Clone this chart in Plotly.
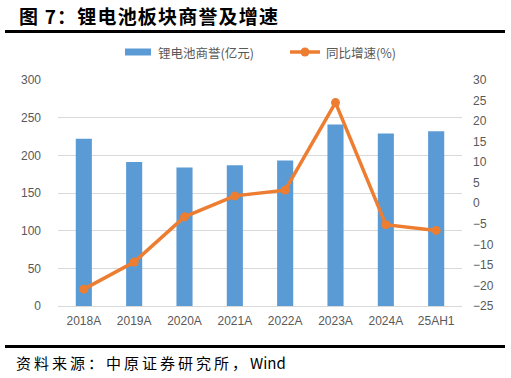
import plotly.graph_objects as go

categories = ["2018A", "2019A", "2020A", "2021A", "2022A", "2023A", "2024A", "25AH1"]
goodwill = [222, 191, 184, 187, 193, 241, 229, 232]
growth = [-20.9, -14.3, -3.3, 1.8, 3.2, 24.5, -5.2, -6.6]
left_ticks = [0, 50, 100, 150, 200, 250, 300]
right_ticks = [30, 25, 20, 15, 10, 5, 0, -5, -10, -15, -20, -25]
bar_name = "锂电池商誉(亿元)"
line_name = "同比增速(%)"
title = "图 7：锂电池板块商誉及增速"
source_cn = "资料来源：中原证券研究所，"
source_en = "Wind"

FONT = "Noto Sans CJK SC"
GRAY = "#595959"
BLUE = "#5B9BD5"
ORANGE = "#ED7D31"

L, R, T, B = 58, 49, 80, 72
W, H = 511, 378
PW, PH = W - L - R, H - T - B


def px(x):
    return (x - L) / PW


def py(y):
    return (H - B - y) / PH


def spaced(s, sep="\u2009"):
    return sep.join(list(s))


fig = go.Figure()
fig.add_trace(go.Bar(
    x=categories, y=goodwill, name=bar_name,
    marker=dict(color=BLUE, line=dict(width=0)),
    yaxis="y",
))
fig.add_trace(go.Scatter(
    x=categories, y=growth, name=line_name,
    mode="lines+markers",
    line=dict(color=ORANGE, width=3.5),
    marker=dict(color=ORANGE, size=9),
    yaxis="y2",
))

fig.update_layout(
    width=W, height=H,
    margin=dict(l=L, r=R, t=T, b=B),
    paper_bgcolor="white", plot_bgcolor="white",
    bargap=0.68,
    showlegend=False,
    xaxis=dict(
        type="category", tickfont=dict(family="Liberation Sans", size=12, color=GRAY),
        showgrid=False, showline=True, linecolor="#D9D9D9", linewidth=1,
        ticks="", ticklabelstandoff=4,
    ),
    yaxis=dict(
        range=[0, 300], tickvals=left_ticks,
        tickfont=dict(family="Liberation Sans", size=12, color=GRAY),
        showgrid=True, gridcolor="#D9D9D9", gridwidth=1,
        zeroline=False, showline=False, ticks="", ticklabelstandoff=16,
    ),
    yaxis2=dict(
        range=[-25, 30], tickvals=right_ticks, overlaying="y", side="right",
        tickfont=dict(family="Liberation Sans", size=12, color=GRAY),
        showgrid=False, zeroline=False, showline=False, ticks="", ticklabelstandoff=10,
    ),
)

# manual legend
fig.add_shape(type="rect", xref="paper", yref="paper",
              x0=px(125), x1=px(151), y0=py(55.5), y1=py(48.5),
              fillcolor=BLUE, line=dict(width=0))
fig.add_annotation(text=bar_name, xref="paper", yref="paper",
                   x=px(156), y=py(52), xanchor="left", yanchor="middle",
                   showarrow=False, font=dict(family=FONT, size=12.5, color=GRAY))
fig.add_shape(type="line", xref="paper", yref="paper",
              x0=px(290), x1=px(320), y0=py(52), y1=py(52),
              line=dict(color=ORANGE, width=3.5))
fig.add_shape(type="circle", xref="paper", yref="paper",
              x0=px(300.5), x1=px(309.5), y0=py(56.5), y1=py(47.5),
              fillcolor=ORANGE, line=dict(width=0))
fig.add_annotation(text=line_name, xref="paper", yref="paper",
                   x=px(324), y=py(52), xanchor="left", yanchor="middle",
                   showarrow=False, font=dict(family=FONT, size=12.5, color=GRAY))

fig.add_annotation(
    text="<b>" + spaced(title, "\u200a") + "</b>", xref="paper", yref="paper",
    x=px(17), y=py(15), xanchor="left", yanchor="middle",
    showarrow=False, font=dict(family=FONT, size=19, color="black"),
)
fig.add_annotation(
    text=spaced(source_cn) + "\u2009" + source_en, xref="paper", yref="paper",
    x=px(14), y=py(362), xanchor="left", yanchor="middle",
    showarrow=False, font=dict(family=FONT, size=15, color="black"),
)
for yy in [31.5, 346.5]:
    fig.add_shape(
        type="line", xref="paper", yref="paper",
        x0=px(5), x1=px(505), y0=py(yy), y1=py(yy),
        line=dict(color="black", width=3),
    )

fig.write_html("out.html", config={"displayModeBar": False},
               post_script="document.body.style.margin='0';")
